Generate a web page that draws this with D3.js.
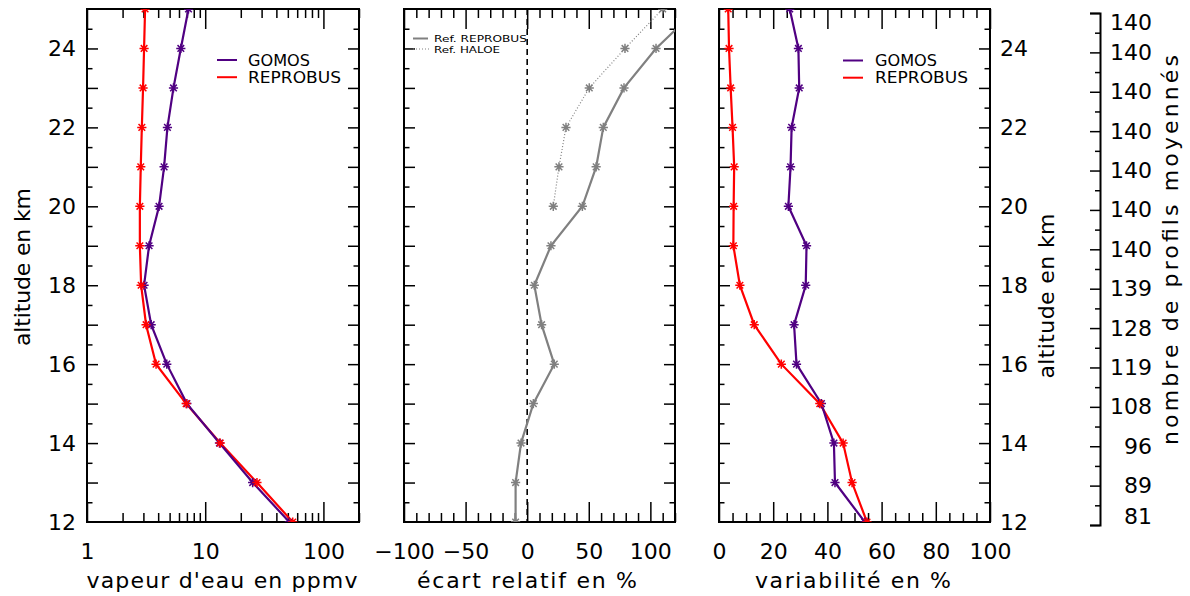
<!DOCTYPE html>
<html><head><meta charset="utf-8">
<script src="https://cdn.jsdelivr.net/npm/d3@7"></script>
<style>
body{margin:0;background:#fff}
svg{display:block}
text{font-family:"DejaVu Sans",sans-serif;fill:#000}
</style>
</head><body>
<svg id="c" width="1190" height="596"></svg>
<script>
// ---------------- data ----------------
const altitudes = [12,13,14,15,16,17,18,19,20,21,22,23,24,25];
const gomosVapeur = [51.5,25.2,13.2,7.0,4.73,3.49,3.04,3.35,4.07,4.49,4.79,5.39,6.22,7.22];
const reprobusVapeur = [55,27.4,13.4,6.9,3.84,3.16,2.87,2.80,2.80,2.85,2.91,2.98,3.04,3.10];
const ecartReprobus = [-9.4,-9.4,-5,5,22,11.7,5.8,19.3,44.8,56,61.8,78.6,104.6,138];
const haloeAltitudes = [20,21,22,23,24,25];
const ecartHaloe = [21.2,25.8,31.5,50.4,79.4,110];
const gomosVariabilite = [53.8,42.8,42.4,37.8,28.6,27.7,32.0,32.3,25.6,26.4,26.8,29.6,29.3,26.1];
const reprobusVariabilite = [54.6,49.1,45.8,37.2,23,13,7.7,5.3,5.4,5.6,5.0,4.3,3.7,3.4];
const nombreProfils = [81,89,96,108,119,128,139,140,140,140,140,140,140,140];
const vapeurTicks = [1,10,100];
const ecartTicks = [-100,-50,0,50,100];
const variabiliteTicks = [0,20,40,60,80,100];
const altitudeLabels = [12,14,16,18,20,22,24];

// ---------------- setup ----------------
const svg = d3.select("#c");
const PURPLE = "#500082", RED = "#ff0000", GRAY = "#808080";
const y = d3.scaleLinear().domain([12,25]).range([522,9]);
const yMajor = d3.range(12,26,1);
const yMinor = d3.range(12.5,25,1);

const x1 = d3.scaleLog().domain([1,200]).range([87,359]);
const x2 = d3.scaleLinear().domain([-100,120]).range([404,675]);
const x3 = d3.scaleLinear().domain([0,100]).range([719,990]);

function star(g, pts, color){
  const r = 4.6;
  g.selectAll(null).data(pts).enter().append("path")
    .attr("transform", d => `translate(${d[0]},${d[1]})`)
    .attr("d", `M0,${-r}V${r}M${-r},0H${r}M${-r*0.72},${-r*0.72}L${r*0.72},${r*0.72}M${-r*0.72},${r*0.72}L${r*0.72},${-r*0.72}`)
    .attr("stroke", color).attr("stroke-width", 1.5).attr("fill","none");
}

function panel(x, id, xMajorTicks, xMinorTicks, fmt){
  const [xa, xb] = x.range();
  const g = svg.append("g");
  svg.append("clipPath").attr("id", id).append("rect")
    .attr("x", xa).attr("y", 9).attr("width", xb-xa).attr("height", 513);
  const bot = g.append("g").attr("transform", `translate(0,522)`)
    .call(d3.axisBottom(x).tickValues(xMajorTicks).tickSize(-20).tickPadding(21).tickFormat(fmt));
  bot.select(".domain").remove();
  bot.selectAll("text").style("font-size","22px").style("font-family","DejaVu Sans");
  bot.selectAll("line").attr("stroke-width",1.5);
  const botm = g.append("g").attr("transform", `translate(0,522)`)
    .call(d3.axisBottom(x).tickValues(xMinorTicks).tickSize(-9).tickFormat(""));
  botm.select(".domain").remove();
  botm.selectAll("line").attr("stroke-width",1.5);
  const top = g.append("g").attr("transform", `translate(0,9)`)
    .call(d3.axisTop(x).tickValues(xMajorTicks).tickSize(-20).tickFormat(""));
  top.select(".domain").remove(); top.selectAll("line").attr("stroke-width",1.5);
  const topm = g.append("g").attr("transform", `translate(0,9)`)
    .call(d3.axisTop(x).tickValues(xMinorTicks).tickSize(-9).tickFormat(""));
  topm.select(".domain").remove(); topm.selectAll("line").attr("stroke-width",1.5);
  [[xa, d3.axisLeft], [xb, d3.axisRight]].forEach(([px, ax]) => {
    const a = g.append("g").attr("transform", `translate(${px},0)`)
      .call(ax(y).tickValues(yMajor.filter(v=>v>12&&v<25)).tickSize(-11).tickFormat(""));
    a.select(".domain").remove(); a.selectAll("line").attr("stroke-width",1.5);
    const b = g.append("g").attr("transform", `translate(${px},0)`)
      .call(ax(y).tickValues(yMinor).tickSize(-5.5).tickFormat(""));
    b.select(".domain").remove(); b.selectAll("line").attr("stroke-width",1.5);
  });
  g.append("rect").attr("x", xa).attr("y", 9).attr("width", xb-xa).attr("height", 513)
    .attr("fill","none").attr("stroke","#000").attr("stroke-width",2);
  return svg.append("g").attr("clip-path", `url(#${id})`);
}

const line = (x, vals, alts) => d3.line().x(d=>x(d)).y((d,i)=>y(alts[i]))(vals);

function legend(xl, xt, items, fs, base, step, lens){
  items.forEach((it,i) => {
    const yy = base + i*step;
    svg.append("line").attr("x1", xl).attr("x2", xl+20).attr("y1", yy-5.5).attr("y2", yy-5.5)
      .attr("stroke", it.color).attr("stroke-width", 2);
    svg.append("text").attr("x", xt).attr("y", yy).style("font-size", fs+"px")
      .attr("textLength", lens[i]).attr("lengthAdjust","spacingAndGlyphs").text(it.label);
  });
}

// ---------------- panel 1 ----------------
const logMinor = [];
[1,10,100].forEach(b => d3.range(2,10).forEach(m => { if (b*m <= 200) logMinor.push(b*m); }));
const p1 = panel(x1, "cp1", vapeurTicks, logMinor, d => String(d));
[[reprobusVapeur, RED],[gomosVapeur, PURPLE]].forEach(([vals,col]) => {
  p1.append("path").attr("d", line(x1, vals, altitudes)).attr("fill","none").attr("stroke",col).attr("stroke-width",2.2);
});
star(p1, gomosVapeur.map((v,i)=>[x1(v), y(altitudes[i])]), PURPLE);
star(p1, reprobusVapeur.map((v,i)=>[x1(v), y(altitudes[i])]), RED);

const yl = svg.append("g").attr("transform","translate(87,0)")
  .call(d3.axisLeft(y).tickValues(altitudeLabels).tickSize(0).tickPadding(11).tickFormat(d=>String(d)));
yl.select(".domain").remove();
yl.selectAll("text").style("font-size","22px").style("font-family","DejaVu Sans");

legend(217, 248, [{label:"GOMOS",color:PURPLE},{label:"REPROBUS",color:RED}], 15, 65.5, 17.2, [62, 93]);

// ---------------- panel 2 ----------------
const p2 = panel(x2, "cp2", ecartTicks, d3.range(-90,121,10).filter(v=>v%50!==0), d => d<0 ? "\u2212"+Math.abs(d) : String(d));
p2.append("line").attr("x1", x2(0)).attr("x2", x2(0)).attr("y1", 9).attr("y2", 522)
  .attr("stroke","#000").attr("stroke-width",1.6).attr("stroke-dasharray","6,4");
p2.append("path").attr("d", line(x2, ecartReprobus, altitudes)).attr("fill","none").attr("stroke",GRAY).attr("stroke-width",2.2);
p2.append("path").attr("d", line(x2, ecartHaloe, haloeAltitudes)).attr("fill","none").attr("stroke",GRAY).attr("stroke-width",1.2).attr("stroke-dasharray","1,2");
star(p2, ecartReprobus.map((v,i)=>[x2(v), y(altitudes[i])]), GRAY);
star(p2, ecartHaloe.map((v,i)=>[x2(v), y(haloeAltitudes[i])]), GRAY);
svg.append("line").attr("x1",413).attr("x2",428).attr("y1",38.5).attr("y2",38.5).attr("stroke",GRAY).attr("stroke-width",2);
svg.append("text").attr("x",434).attr("y",42).style("font-size","9.5px")
  .attr("textLength",93).attr("lengthAdjust","spacingAndGlyphs").text("Ref. REPROBUS");
svg.append("line").attr("x1",413).attr("x2",431).attr("y1",49).attr("y2",49).attr("stroke",GRAY).attr("stroke-width",1.2).attr("stroke-dasharray","1,2");
svg.append("text").attr("x",434).attr("y",52.5).style("font-size","9.5px")
  .attr("textLength",66).attr("lengthAdjust","spacingAndGlyphs").text("Ref. HALOE");

// ---------------- panel 3 ----------------
const p3 = panel(x3, "cp3", variabiliteTicks, d3.range(5,100,5).filter(v=>v%20!==0), d => String(d));
[[reprobusVariabilite, RED],[gomosVariabilite, PURPLE]].forEach(([vals,col]) => {
  p3.append("path").attr("d", line(x3, vals, altitudes)).attr("fill","none").attr("stroke",col).attr("stroke-width",2.2);
});
star(p3, gomosVariabilite.map((v,i)=>[x3(v), y(altitudes[i])]), PURPLE);
star(p3, reprobusVariabilite.map((v,i)=>[x3(v), y(altitudes[i])]), RED);
legend(843, 875, [{label:"GOMOS",color:PURPLE},{label:"REPROBUS",color:RED}], 15, 66, 17.2, [62, 93]);

const yr = svg.append("g").attr("transform","translate(990,0)")
  .call(d3.axisRight(y).tickValues(altitudeLabels).tickSize(0).tickPadding(10).tickFormat(d=>String(d)));
yr.select(".domain").remove();
yr.selectAll("text").style("font-size","22px").style("font-family","DejaVu Sans");

// ---------------- count axis ----------------
const yc = d3.scaleLinear().domain([12,25]).range([525,13]);
const ca = svg.append("g").attr("transform","translate(1100,0)")
  .call(d3.axisRight(yc).tickValues(altitudes).tickSize(-10).tickSizeOuter(-10).tickPadding(10)
    .tickFormat(d => String(nombreProfils[altitudes.indexOf(d)])));
ca.selectAll("line").attr("stroke-width",1.5);
ca.select(".domain").attr("stroke-width",2);
ca.selectAll("text").style("font-size","22px").style("font-family","DejaVu Sans")
  .attr("text-anchor","end").attr("x",52)
  .attr("dy", d => d===25 ? "0.75em" : d===12 ? "-0.05em" : "0.32em");
const cm = svg.append("g").attr("transform","translate(1100,0)")
  .call(d3.axisRight(yc).tickValues(yMinor).tickSize(-5).tickFormat(""));
cm.select(".domain").remove(); cm.selectAll("line").attr("stroke-width",1.5);

// ---------------- titles ----------------
function title(txt, x, yy, len, rot){
  const t = svg.append("text").style("font-size","22px").attr("text-anchor","middle")
    .attr("textLength", len).attr("lengthAdjust","spacing").text(txt);
  if (rot) t.attr("transform", `translate(${x},${yy}) rotate(-90)`);
  else t.attr("x", x).attr("y", yy);
}
title("vapeur d'eau en ppmv", 222, 588, 271);
title("écart relatif en %", 527, 588, 220);
title("variabilité en %", 853, 588, 196);
title("altitude en km", 30, 267, 158, true);
title("altitude en km", 1054, 296, 165, true);
title("nombre de profils moyennés", 1178, 250, 390, true);
</script>
</body></html>
